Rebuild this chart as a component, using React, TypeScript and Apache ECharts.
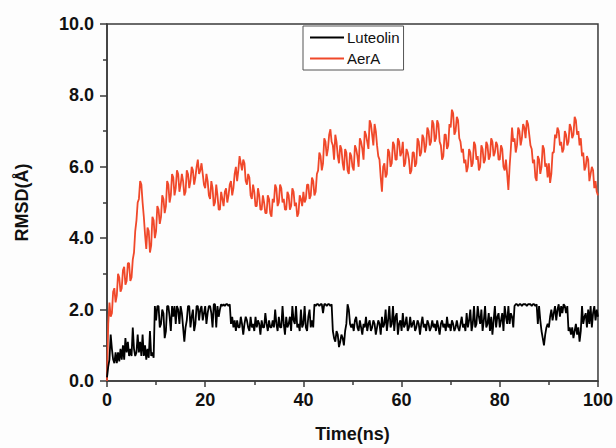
import React, { useEffect, useRef } from "react";
import * as echarts from "echarts";

const timeStep = 0.25;

const aerA = [
  0.0, 1.6, 2.2, 1.8, 1.9, 2.5, 2.6, 2.2, 2.4, 3.0, 2.9, 2.5, 2.6, 3.1, 3.2, 2.7, 2.8, 3.3, 3.3, 2.8,
  2.9, 3.4, 3.6, 4.2, 4.5, 5.0, 5.1, 5.6, 5.5, 5.0, 4.6, 4.1, 3.7, 4.3, 4.2, 3.6, 3.8, 4.6, 4.5, 4.0,
  4.2, 4.9, 4.8, 4.4, 4.6, 5.2, 5.1, 4.7, 4.9, 5.6, 5.5, 5.0, 5.2, 5.8, 5.7, 5.2, 5.4, 5.9, 5.8, 5.3,
  5.5, 5.8, 5.6, 5.2, 5.3, 5.9, 5.8, 5.4, 5.6, 6.0, 5.9, 5.5, 5.7, 6.0, 6.2, 5.8, 5.9, 6.1, 5.8, 5.5,
  5.4, 5.8, 5.6, 5.2, 5.1, 5.6, 5.4, 4.9, 5.0, 5.5, 5.2, 4.8, 4.8, 5.3, 5.1, 4.9, 5.3, 5.4, 5.0, 5.2,
  5.5, 5.6, 5.2, 5.4, 5.8, 6.0, 5.6, 5.9, 6.3, 6.1, 5.9, 6.2, 6.1, 5.6, 5.5, 5.8, 5.7, 5.2, 5.1, 5.5,
  5.3, 4.9, 4.9, 5.4, 5.2, 4.8, 4.8, 5.2, 5.0, 4.7, 4.7, 5.2, 5.1, 4.7, 4.6, 5.1, 5.0, 5.5, 5.4, 4.9,
  5.0, 5.5, 5.4, 5.0, 5.1, 4.8, 4.8, 5.3, 5.2, 4.8, 4.9, 5.4, 5.3, 4.9, 5.0, 4.6, 4.7, 5.2, 5.1, 4.9,
  5.3, 5.0, 5.1, 5.5, 5.5, 5.1, 5.2, 5.7, 5.6, 5.2, 5.3, 5.8, 5.9, 6.4, 6.3, 5.9, 6.1, 6.8, 6.7, 6.3,
  6.5, 6.9, 7.05, 6.7, 6.6, 6.2, 6.9, 6.7, 6.3, 6.1, 6.6, 6.5, 6.1, 5.9, 6.5, 6.4, 5.9, 5.8, 6.4, 6.3,
  6.0, 5.9, 6.6, 6.5, 6.3, 6.0, 6.8, 6.7, 6.5, 6.2, 7.0, 6.9, 6.7, 6.5, 7.3, 7.2, 6.9, 6.6, 7.2, 7.0,
  6.6, 6.3, 6.2, 5.7, 5.3, 6.0, 6.1, 5.7, 5.8, 6.5, 6.4, 6.0, 6.1, 6.7, 6.6, 6.2, 6.2, 6.8, 6.7, 6.3,
  6.4, 6.7, 6.0, 6.1, 6.5, 6.4, 6.2, 5.8, 5.9, 6.4, 6.4, 6.0, 6.1, 6.8, 6.7, 6.3, 6.4, 6.9, 6.8, 6.4,
  6.6, 7.1, 7.0, 6.6, 6.7, 7.3, 7.2, 6.7, 6.8, 7.3, 7.2, 6.7, 6.6, 6.2, 6.3, 6.9, 6.9, 6.5, 6.6, 7.2,
  7.1, 7.6, 7.5, 6.9, 7.0, 7.4, 7.3, 6.8, 6.7, 6.4, 6.5, 6.1, 6.2, 5.85, 6.0, 6.5, 6.4, 6.0, 6.1, 6.7,
  6.6, 6.2, 6.3, 5.9, 6.0, 6.6, 6.5, 6.1, 6.2, 6.7, 6.6, 6.2, 6.3, 6.8, 6.7, 6.3, 6.4, 6.7, 6.6, 6.2,
  6.2, 6.6, 6.5, 6.0, 5.9, 6.2, 5.8, 5.35, 6.0, 6.5, 7.1, 6.7, 6.8, 6.4, 6.6, 7.1, 7.0, 6.6, 6.8, 7.2,
  7.1, 6.8, 7.3, 7.2, 6.9, 6.6, 6.5, 6.1, 6.2, 5.7, 5.6, 6.3, 6.2, 5.8, 6.0, 6.6, 6.5, 6.0, 6.1, 5.7,
  6.1, 5.55, 5.8, 6.4, 6.4, 6.9, 6.8, 7.1, 7.0, 6.6, 6.7, 6.4, 6.5, 7.0, 6.9, 6.6, 6.7, 7.2, 7.1, 6.8,
  6.9, 7.4, 7.3, 6.9, 7.0, 6.6, 6.8, 6.3, 6.4, 5.9, 6.0, 6.3, 6.2, 5.6, 5.8, 6.0, 5.9, 5.4, 5.6, 5.3,
  5.2,
];

const luteolin = [
  0.1, 0.4, 0.6, 1.3, 0.9, 0.6, 0.5, 0.8, 0.5, 0.8, 0.55, 0.9, 0.6, 1.0, 0.6, 1.2, 0.8, 1.1, 0.7, 0.9,
  0.7, 1.5, 0.9, 0.7, 0.8, 1.3, 0.8, 1.1, 0.7, 1.3, 0.7, 1.0, 0.6, 0.9, 0.65, 1.4, 0.7, 0.8, 0.65, 2.1,
  1.7, 2.1, 2.1, 1.5, 1.6, 2.0, 1.9, 1.2, 1.4, 2.1, 2.1, 1.8, 1.4, 2.1, 1.8, 2.1, 1.6, 2.1, 2.0, 1.6,
  2.1, 1.9, 1.5, 1.1, 1.5, 1.7, 2.1, 2.1, 1.5, 1.8, 2.0, 1.4, 1.6, 2.1, 2.1, 1.7, 2.0, 2.1, 1.7, 1.9,
  2.1, 1.6, 1.9, 2.1, 2.1, 1.9, 1.5, 2.15, 2.15, 1.5, 2.1, 1.8, 2.0, 2.15, 2.1, 2.15, 2.1, 2.15, 2.15, 2.1,
  2.15, 1.6, 1.8, 1.5, 1.7, 1.4, 1.7, 1.5, 1.5, 1.8, 1.6, 1.3, 1.6, 1.8, 1.7, 1.5, 1.4, 1.8, 1.5, 1.6,
  1.4, 1.8, 1.5, 1.7, 1.6, 1.3, 1.7, 1.5, 1.5, 1.9, 1.6, 1.4, 1.7, 1.5, 1.5, 1.7, 1.5, 2.0, 1.6, 1.4,
  1.8, 1.5, 1.5, 2.1, 1.6, 1.3, 1.8, 1.5, 1.6, 1.8, 1.4, 2.1, 1.7, 1.6, 2.1, 1.5, 1.6, 1.4, 2.0, 1.5,
  1.6, 2.1, 1.5, 1.4, 1.8, 2.0, 1.5, 1.7, 1.5, 2.15, 2.1, 2.15, 2.15, 2.1, 2.15, 2.15, 1.9, 2.15, 2.15, 2.1,
  2.15, 2.15, 2.1, 2.15, 1.4, 1.2, 1.1, 1.4, 1.3, 0.95, 1.1, 1.3, 1.2, 1.0, 1.4, 1.6, 2.15, 2.0, 1.6, 1.5,
  1.6, 1.4, 1.7, 1.8, 1.5, 1.4, 1.7, 1.5, 1.3, 1.6, 1.5, 1.8, 1.4, 1.6, 1.7, 1.4, 1.5, 1.7, 1.6, 1.3,
  1.5, 1.7, 1.6, 1.3, 1.8, 1.5, 1.6, 2.0, 1.4, 1.7, 2.1, 1.5, 1.6, 2.1, 1.4, 1.8, 1.9, 1.3, 1.6, 1.7,
  1.4, 1.9, 1.5, 1.6, 1.8, 1.4, 1.5, 1.8, 1.5, 1.6, 1.7, 1.4, 1.5, 1.7, 1.6, 1.3, 1.6, 1.8, 1.5, 1.6,
  1.4, 1.7, 1.6, 1.4, 1.5, 1.7, 1.5, 1.6, 1.4, 1.7, 1.5, 1.3, 1.6, 1.7, 1.5, 1.6, 1.4, 1.8, 1.5, 1.6,
  1.4, 1.7, 1.6, 1.4, 1.5, 1.7, 1.5, 1.4, 1.6, 1.8, 1.5, 1.6, 1.4, 1.9, 1.5, 1.7, 2.0, 1.4, 1.6, 2.1,
  1.5, 1.6, 2.1, 1.8, 1.6, 2.0, 1.4, 1.7, 2.1, 1.5, 1.6, 1.9, 1.4, 1.8, 1.3, 1.7, 2.1, 1.5, 1.8, 1.9,
  1.5, 1.7, 1.9, 1.4, 2.1, 1.8, 1.6, 2.1, 1.6, 1.9, 1.8, 1.5, 2.1, 2.15, 2.15, 2.1, 2.15, 2.15, 2.1, 2.15,
  2.15, 2.15, 2.1, 2.15, 2.15, 2.15, 2.1, 2.15, 2.15, 2.1, 2.15, 1.6, 2.1, 1.7, 1.4, 1.2, 1.0, 1.3, 1.5, 1.6,
  1.5, 1.8, 2.0, 1.7, 1.9, 2.1, 1.7, 2.0, 2.15, 1.8, 2.1, 1.9, 2.15, 2.1, 1.9, 2.1, 1.4, 1.5, 1.3, 1.5,
  1.2, 1.4, 1.6, 1.3, 1.5, 1.1, 1.4, 2.1, 1.6, 1.8, 1.9, 1.5, 2.0, 1.6, 2.1, 1.5, 1.9, 2.1, 1.7, 2.0,
  1.8,
];

const seriesNames = ["Luteolin", "AerA"];
const xTicks = [0, 20, 40, 60, 80, 100];
const yTicks = [0, 2, 4, 6, 8, 10];

const toPairs = (vals: number[]) => vals.map((v, i) => [i * timeStep, v]);

export default function App() {
  const ref = useRef<HTMLDivElement>(null);
  useEffect(() => {
    if (!ref.current) return;
    const chart = echarts.init(ref.current, undefined, { renderer: "svg" });
    const axisColor = "#3a3a3a";
    const font = "Liberation Sans, Arial, sans-serif";
    chart.setOption({
      animation: false,
      backgroundColor: "#fdfdfd",
      grid: {
        left: 107,
        right: 18,
        top: 24,
        bottom: 64,
        show: true,
        borderColor: axisColor,
        borderWidth: 1.5,
        backgroundColor: "transparent",
      },
      legend: {
        orient: "vertical",
        left: 303,
        top: 26,
        width: 102,
        data: seriesNames,
        icon: "rect",
        itemWidth: 34,
        itemHeight: 2,
        itemGap: 6,
        padding: [4, 4, 4, 7],
        borderColor: "#555",
        borderWidth: 1,
        backgroundColor: "#fff",
        textStyle: { fontFamily: font, fontSize: 15, color: "#111", padding: [0, 0, 0, -2] },
      },
      xAxis: {
        type: "value",
        min: xTicks[0],
        max: xTicks[xTicks.length - 1],
        interval: 20,
        name: "Time(ns)",
        nameLocation: "middle",
        nameGap: 44,
        nameTextStyle: { fontFamily: font, fontSize: 18, fontWeight: "bold", color: "#111" },
        axisLine: { lineStyle: { color: axisColor, width: 1.5 } },
        axisTick: { length: 6, lineStyle: { color: axisColor, width: 1.5 } },
        minorTick: { show: true, splitNumber: 2, length: 4, lineStyle: { color: axisColor, width: 1.5 } },
        axisLabel: { fontFamily: font, fontSize: 18, fontWeight: "bold", color: "#111", margin: 10 },
        splitLine: { show: false },
      },
      yAxis: {
        type: "value",
        min: yTicks[0],
        max: yTicks[yTicks.length - 1],
        interval: 2,
        name: "RMSD(Å)",
        nameLocation: "middle",
        nameGap: 76,
        nameTextStyle: { fontFamily: font, fontSize: 18, fontWeight: "bold", color: "#111" },
        axisLine: { lineStyle: { color: axisColor, width: 1.5 } },
        axisTick: { length: 7, lineStyle: { color: axisColor, width: 1.5 } },
        minorTick: { show: true, splitNumber: 2, length: 4, lineStyle: { color: axisColor, width: 1.5 } },
        axisLabel: {
          fontFamily: font,
          fontSize: 18,
          fontWeight: "bold",
          color: "#111",
          margin: 13,
          formatter: (v: number) => v.toFixed(1),
        },
        splitLine: { show: false },
      },
      series: [
        {
          name: seriesNames[0],
          type: "line",
          data: toPairs(luteolin),
          showSymbol: false,
          lineStyle: { color: "#000", width: 1.8 },
          itemStyle: { color: "#000" },
          z: 3,
        },
        {
          name: seriesNames[1],
          type: "line",
          data: toPairs(aerA),
          showSymbol: false,
          lineStyle: { color: "#f0482a", width: 1.8 },
          itemStyle: { color: "#f0482a" },
          z: 2,
        },
      ],
    });
    return () => chart.dispose();
  }, []);
  return (
    <div
      ref={ref}
      style={{ position: "fixed", left: 0, top: 0, width: 616, height: 448 }}
    />
  );
}
